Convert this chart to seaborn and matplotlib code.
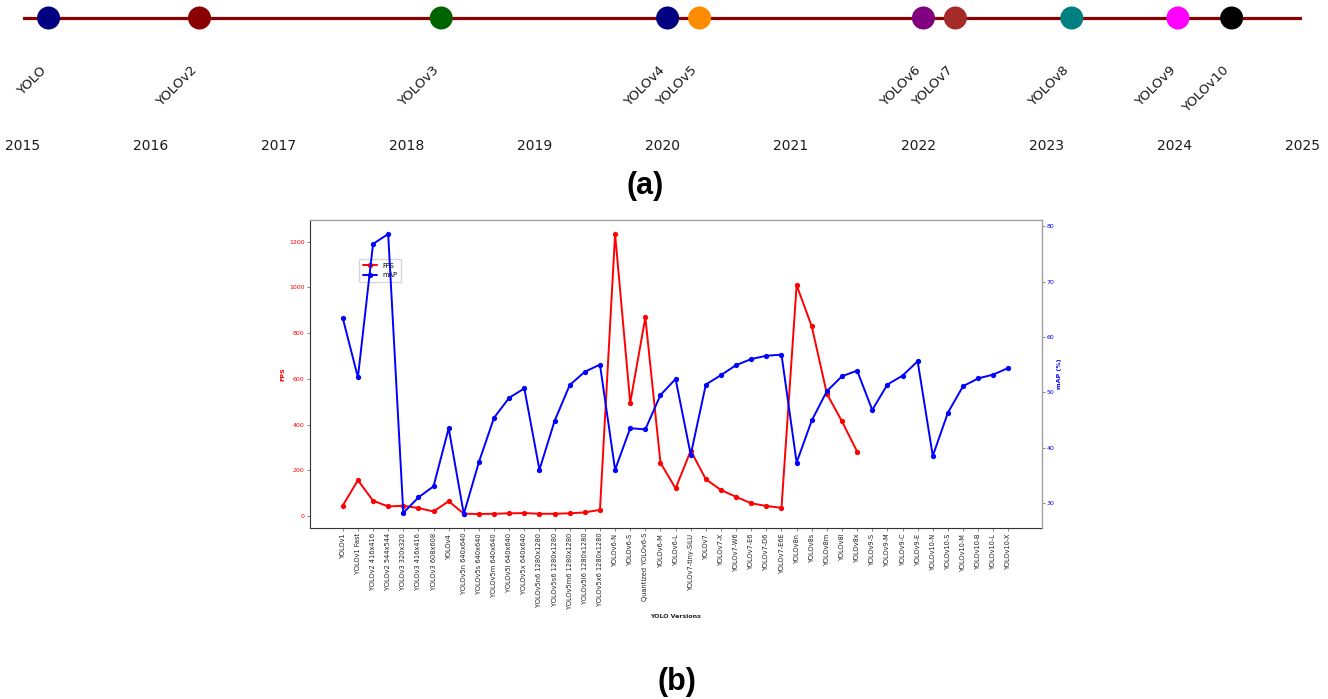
import numpy as np
import pandas as pd
import matplotlib
matplotlib.use("Agg")
import matplotlib.pyplot as plt
import seaborn as sns

# ---------------- data ----------------
release_names = ["YOLO", "YOLOv2", "YOLOv3", "YOLOv4", "YOLOv5",
                 "YOLOv6", "YOLOv7", "YOLOv8", "YOLOv9", "YOLOv10"]
release_dates = [2015.20, 2016.38, 2018.27, 2020.04, 2020.29,
                 2022.04, 2022.29, 2023.20, 2024.03, 2024.45]
release_colors = ["navy", "darkred", "darkgreen", "navy", "darkorange",
                  "purple", "brown", "teal", "magenta", "black"]
year_ticks = list(range(2015, 2026))

versions = [
    "YOLOv1", "YOLOv1 Fast", "YOLOv2 416x416", "YOLOv2 544x544",
    "YOLOv3 320x320", "YOLOv3 416x416", "YOLOv3 608x608", "YOLOv4",
    "YOLOv5n 640x640", "YOLOv5s 640x640", "YOLOv5m 640x640", "YOLOv5l 640x640",
    "YOLOv5x 640x640", "YOLOv5n6 1280x1280", "YOLOv5s6 1280x1280",
    "YOLOv5m6 1280x1280", "YOLOv5l6 1280x1280", "YOLOv5x6 1280x1280",
    "YOLOv6-N", "YOLOv6-S", "Quantized YOLOv6-S", "YOLOv6-M", "YOLOv6-L",
    "YOLOv7-tiny-SiLU", "YOLOv7", "YOLOv7-X", "YOLOv7-W6", "YOLOv7-E6",
    "YOLOv7-D6", "YOLOv7-E6E", "YOLOv8n", "YOLOv8s", "YOLOv8m", "YOLOv8l",
    "YOLOv8x", "YOLOv9-S", "YOLOv9-M", "YOLOv9-C", "YOLOv9-E",
    "YOLOv10-N", "YOLOv10-S", "YOLOv10-M", "YOLOv10-B", "YOLOv10-L", "YOLOv10-X",
]
fps_values = [
    46, 157, 67, 42, 45, 35, 20, 65,
    10, 9, 10, 12, 13, 10, 10, 12, 16, 27,
    1234, 495, 869, 233, 121,
    286, 161, 114, 84, 56, 44, 36,
    1010, 830, 535, 414, 282,
]
map_values = [
    63.4, 52.7, 76.8, 78.6, 28.2, 31.0, 33.0, 43.5,
    28.0, 37.4, 45.4, 49.0, 50.7, 36.0, 44.8, 51.3, 53.7, 55.0,
    36.0, 43.5, 43.3, 49.5, 52.4,
    38.7, 51.4, 53.1, 54.9, 56.0, 56.6, 56.8,
    37.3, 44.9, 50.2, 52.9, 53.9,
    46.8, 51.4, 53.0, 55.6,
    38.5, 46.3, 51.1, 52.5, 53.2, 54.4,
]

sns.set_style("white")
plt.rcParams["font.family"] = ["DejaVu Sans"]
plt.rcParams["text.color"] = "black"

W, H = 1328, 699
fig = plt.figure(figsize=(W / 100, H / 100), dpi=100)


def frac_box(left, top, right, bottom):
    return [left / W, 1 - bottom / H, (right - left) / W, (bottom - top) / H]


# ---------------- (a) release timeline ----------------
axt = fig.add_axes(frac_box(23, 0, 1302, 128))
axt.set_xlim(2015, 2025)
axt.set_ylim(-110, 18)
axt.axhline(0, color="darkred", linewidth=2.3, zorder=1)

timeline = pd.DataFrame({"date": release_dates, "y": 0.0, "name": release_names})
sns.scatterplot(data=timeline, x="date", y="y", hue="name",
                palette=dict(zip(release_names, release_colors)),
                s=275, linewidth=0, legend=False, ax=axt, zorder=3)
for d, name in zip(release_dates, release_names):
    axt.text(d, -46, name, rotation=45, ha="right", va="top",
             fontsize=9.5, color="#1a1a1a")

axt.set_xticks(year_ticks)
axt.set_xticklabels([str(y) for y in year_ticks], fontsize=10, color="#1a1a1a")
axt.tick_params(axis="x", length=0, pad=8, bottom=True)
axt.set_yticks([])
axt.set_xlabel("")
axt.set_ylabel("")
for sp in axt.spines.values():
    sp.set_visible(False)
axt.patch.set_alpha(0)

fig.text(645 / W, 1 - 186 / H, "(a)", ha="center", va="center", color="black",
         fontsize=22, fontweight="bold", family=["Liberation Sans", "DejaVu Sans"])

# ---------------- (b) FPS / mAP comparison ----------------
df = pd.DataFrame({
    "pos": np.arange(len(versions)),
    "FPS": fps_values + [np.nan] * (len(versions) - len(fps_values)),
    "mAP": map_values,
})

ax = fig.add_axes(frac_box(309.5, 220, 1041.7, 528))
sns.lineplot(data=df.dropna(subset=["FPS"]), x="pos", y="FPS", ax=ax,
             color="red", marker="o", markersize=3.8, linewidth=1.4,
             markeredgecolor="red", markeredgewidth=0, errorbar=None)
ax2 = ax.twinx()
sns.lineplot(data=df, x="pos", y="mAP", ax=ax2,
             color="blue", marker="o", markersize=3.8, linewidth=1.4,
             markeredgecolor="blue", markeredgewidth=0, errorbar=None)

ax.set_xticks(df["pos"])
ax.set_xticklabels(versions, rotation=90, fontsize=4.75, color="#222222")
ax.tick_params(axis="x", bottom=True, length=2, width=0.5, pad=1.5, color="#555555")
ax.tick_params(axis="y", left=True, length=2, width=0.5, pad=1.5,
               labelsize=4.5, labelcolor="red", color="#555555")
ax2.tick_params(axis="y", right=True, length=2, width=0.5, pad=1.5,
                labelsize=4.5, labelcolor="blue", color="#555555")

ax.set_xlabel("YOLO Versions", fontsize=4.5, fontweight="bold", labelpad=3.5)
ax.set_ylabel("FPS", fontsize=4.6, fontweight="bold", color="red", labelpad=2.5)
ax2.set_ylabel("mAP (%)", fontsize=4.6, fontweight="bold", color="blue", labelpad=2)

for name in ["left", "bottom"]:
    ax.spines[name].set_color("#333333")
    ax.spines[name].set_linewidth(0.8)
    ax2.spines[name].set_visible(False)
for name in ["top", "right"]:
    ax.spines[name].set_visible(False)
    ax2.spines[name].set_color("#a0a0a0")
    ax2.spines[name].set_linewidth(1.0)

ax.legend([ax.lines[0], ax2.lines[0]], ["FPS", "mAP"], loc="upper left",
          bbox_to_anchor=(0.0635, 0.885), fontsize=4.8, frameon=True,
          borderpad=0.6, labelspacing=0.5, handlelength=2.0)

fig.text(677 / W, 1 - 682 / H, "(b)", ha="center", va="center", color="black",
         fontsize=22, fontweight="bold", family=["Liberation Sans", "DejaVu Sans"])

fig.savefig("out.png", dpi=100)
